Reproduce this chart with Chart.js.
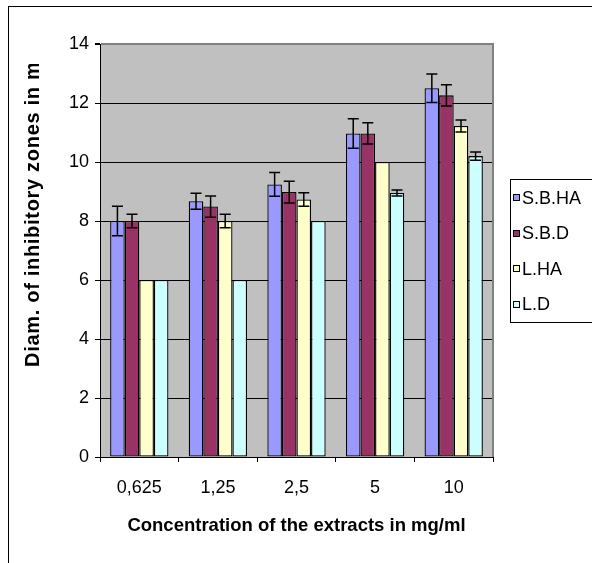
<!DOCTYPE html>
<html>
<head>
<meta charset="utf-8">
<script src="https://cdn.jsdelivr.net/npm/chart.js@4"></script>
<style>
  body { margin: 0; background: #fff; }
  canvas { display: block; }
</style>
</head>
<body>
<canvas id="chart" width="592" height="563"></canvas>
<script>
// concentrations (mg/ml)
const categories = ['0,625', '1,25', '2,5', '5', '10']

const seriesNames = ['S.B.HA', 'S.B.D', 'L.HA', 'L.D']
const seriesColors = ['#9999FF', '#993366', '#FFFFCC', '#CCFFFF']

// mean diameters
const sbha = [8.0, 8.67, 9.24, 10.97, 12.5]
const sbd = [8.0, 8.49, 8.98, 10.97, 12.26]
const lha = [6.0, 8.0, 8.73, 10.0, 11.22]
const ld = [6.0, 6.0, 8.0, 8.95, 10.2]

// error (+/-)
const sbhaErr = [0.5, 0.27, 0.4, 0.5, 0.48]
const sbdErr = [0.23, 0.36, 0.37, 0.36, 0.36]
const lhaErr = [0, 0.23, 0.23, 0, 0.2]
const ldErr = [0, 0, 0, 0.1, 0.14]

const yTitle = 'Diam. of inhibitory zones in mm'
const xTitle = 'Concentration of the extracts in mg/ml'

const values = [sbha, sbd, lha, ld]
const errors = [sbhaErr, sbdErr, lhaErr, ldErr]

Chart.defaults.font.family = '"Liberation Sans", Arial, sans-serif'
Chart.defaults.color = '#000'

// grey plot background, outer frame, plot border on top/right
const framePlugin = {
  id: 'frame',
  beforeDraw(chart) {
    const ctx = chart.ctx
    const a = chart.chartArea
    ctx.save()
    ctx.fillStyle = '#fff'
    ctx.fillRect(0, 0, chart.width, chart.height)
    ctx.fillStyle = '#C0C0C0'
    ctx.fillRect(a.left, a.top, a.right - a.left, a.bottom - a.top)
    ctx.restore()
  },
  afterDraw(chart) {
    const ctx = chart.ctx
    const a = chart.chartArea
    ctx.save()
    // right border of plot
    ctx.strokeStyle = '#808080'
    ctx.lineWidth = 2
    ctx.beginPath()
    ctx.moveTo(a.right, a.top - 1)
    ctx.lineTo(a.right, a.bottom)
    ctx.stroke()
    // outer frame
    ctx.strokeStyle = '#000'
    ctx.lineWidth = 1
    ctx.strokeRect(8.5, 6.5, 800, 800)

    // y title, clipped at the top like the original
    ctx.save()
    ctx.beginPath()
    ctx.rect(0, 64, 100, 500)
    ctx.clip()
    ctx.translate(39, 367)
    ctx.rotate(-Math.PI / 2)
    ctx.font = 'bold 20px "Liberation Sans", Arial'
    ctx.letterSpacing = '0.7px'
    ctx.fillStyle = '#000'
    ctx.textAlign = 'left'
    ctx.textBaseline = 'alphabetic'
    ctx.fillText(yTitle, 0, 0)
    ctx.restore()

    // legend
    ctx.strokeStyle = '#000'
    ctx.lineWidth = 1
    ctx.strokeRect(510.5, 179.5, 200, 143)
    ctx.font = '18px "Liberation Sans", Arial'
    ctx.textBaseline = 'alphabetic'
    chart.data.datasets.forEach((ds, i) => {
      const yc = 197 + i * 35.5
      ctx.fillStyle = ds.backgroundColor
      ctx.fillRect(513, Math.round(yc - 3), 6, 6)
      ctx.strokeRect(513.5, Math.round(yc - 3) + 0.5, 6, 6)
      ctx.fillStyle = '#000'
      ctx.fillText(ds.label, 522, yc + 6.5)
    })
    ctx.restore()
  }
}

// error bars from the errors arrays
const errorBarPlugin = {
  id: 'errorBars',
  afterDatasetsDraw(chart) {
    const ctx = chart.ctx
    const y = chart.scales.y
    ctx.save()
    ctx.strokeStyle = '#000'
    ctx.lineWidth = 1.5
    chart.data.datasets.forEach((ds, i) => {
      const meta = chart.getDatasetMeta(i)
      meta.data.forEach((bar, j) => {
        const e = ds.errors[j]
        if (!e) return
        const v = ds.data[j]
        const top = y.getPixelForValue(v + e)
        const bot = y.getPixelForValue(v - e)
        const x = bar.x
        ctx.beginPath()
        ctx.moveTo(x, top)
        ctx.lineTo(x, bot)
        ctx.moveTo(x - 5.5, top)
        ctx.lineTo(x + 5.5, top)
        ctx.moveTo(x - 5.5, bot)
        ctx.lineTo(x + 5.5, bot)
        ctx.stroke()
      })
    })
    ctx.restore()
  }
}

const datasets = seriesNames.map((name, i) => ({
  label: name,
  data: values[i],
  errors: errors[i],
  backgroundColor: seriesColors[i],
  borderColor: '#000',
  borderWidth: 1.3,
  borderSkipped: false
}))

const config = {
  type: 'bar',
  data: { labels: categories, datasets: datasets },
  options: {
    responsive: false,
    animation: false,
    devicePixelRatio: 1,
    layout: { padding: { top: 44, right: 99, bottom: 0, left: 0 } },
    categoryPercentage: 0.742,
    barPercentage: 1,
    plugins: {
      legend: { display: false },
      tooltip: { enabled: false }
    },
    scales: {
      x: {
        grid: {
          offset: true,
          drawOnChartArea: false,
          tickLength: 5,
          color: '#000'
        },
        border: { color: '#000', width: 1 },
        ticks: { font: { size: 18 }, padding: 15, maxRotation: 0 },
        title: {
          display: true,
          text: xTitle,
          font: { size: 18.5, weight: 'bold' },
          padding: { top: 0, bottom: 26 }
        },
        afterFit(scale) { scale.height = 106 }
      },
      y: {
        min: 0,
        max: 14,
        ticks: { stepSize: 2, font: { size: 18 }, padding: 6 },
        grid: {
          tickLength: 5,
          tickColor: '#000',
          color: c => c.tick && c.tick.value === 14 ? '#808080' : '#000',
          lineWidth: c => c.tick && c.tick.value === 14 ? 2 : 1
        },
        border: { color: '#000', width: 1 },
        afterFit(scale) { scale.width = 100 }
      }
    }
  },
  plugins: [framePlugin, errorBarPlugin]
}

const myChart = new Chart(document.getElementById('chart'), config)
</script>
</body>
</html>
